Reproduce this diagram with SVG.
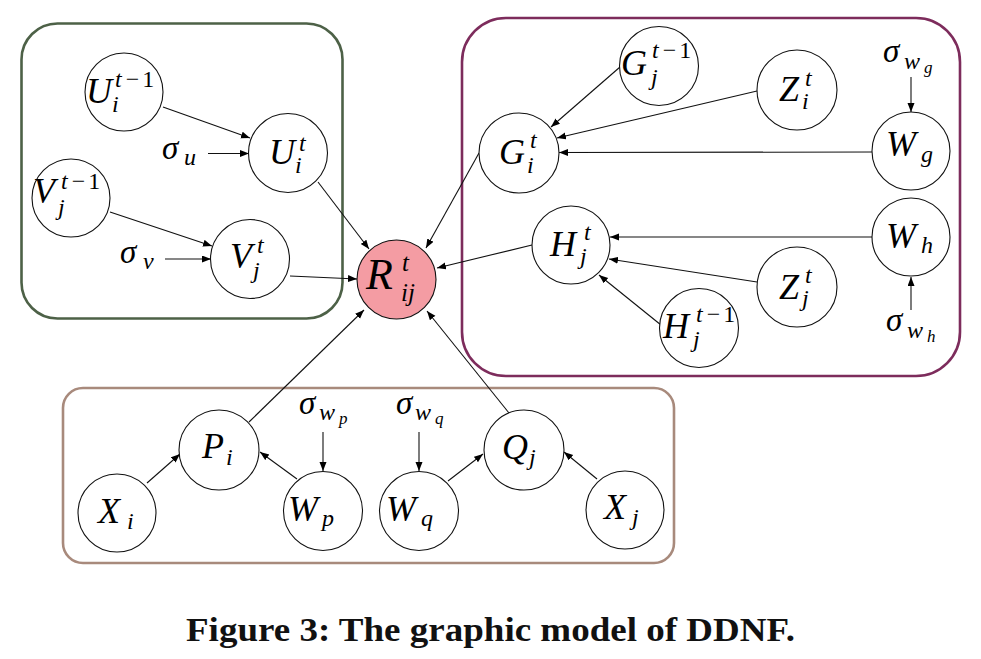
<svg xmlns="http://www.w3.org/2000/svg" width="981" height="659" viewBox="0 0 981 659">
<defs>
<style>
.c{fill:#fff;stroke:#111;stroke-width:1.1}
.m{font-family:"Liberation Serif","Times New Roman",serif;font-style:italic;font-size:36px;fill:#000}
.g{font-size:33px}
.s{font-family:"Liberation Serif","Times New Roman",serif;font-style:italic;font-size:24px;fill:#000}
.ss{font-family:"Liberation Serif","Times New Roman",serif;font-style:italic;font-size:17px;fill:#000}
.n{font-style:normal}
.e{fill:none;stroke:#111;stroke-width:1.1;marker-end:url(#ah)}
.box{fill:none;stroke-width:2.6}
</style>
<marker id="ah" markerUnits="userSpaceOnUse" markerWidth="10" markerHeight="8" refX="9" refY="3.5" orient="auto">
<path d="M0,0 L9,3.5 L0,7 z" fill="#000"/>
</marker>
</defs>
<rect width="981" height="659" fill="#fff"/>
<g id="boxes">
<rect class="box" x="21.5" y="23.5" width="321" height="295" rx="36" stroke="#4d6147"/>
<rect class="box" x="462" y="18" width="498" height="358" rx="44" stroke="#7d2c5c"/>
<rect class="box" x="63" y="388" width="611" height="175" rx="20" stroke="#a88a7c"/>
</g>
<g id="connectors">
<line class="e" x1="163" y1="107" x2="250" y2="138"/>
<line class="e" x1="208" y1="153.5" x2="249" y2="153.5"/>
<line class="e" x1="110" y1="212" x2="212" y2="246"/>
<line class="e" x1="165" y1="259" x2="211" y2="259"/>
<line class="e" x1="318" y1="182" x2="369" y2="249"/>
<line class="e" x1="290" y1="276" x2="357" y2="279"/>
<line class="e" x1="479" y1="153" x2="426" y2="248"/>
<line class="e" x1="532" y1="245" x2="437" y2="268"/>
<line class="e" x1="249" y1="422" x2="364" y2="310"/>
<line class="e" x1="509" y1="413" x2="427" y2="311"/>
<line class="e" x1="620" y1="67" x2="551" y2="127"/>
<line class="e" x1="757" y1="91" x2="557" y2="138"/>
<line class="e" x1="872" y1="152" x2="559" y2="152.5"/>
<line class="e" x1="911" y1="77" x2="911" y2="112"/>
<line class="e" x1="872" y1="237" x2="610" y2="237"/>
<line class="e" x1="757" y1="282" x2="609" y2="259"/>
<line class="e" x1="661" y1="325" x2="599" y2="275"/>
<line class="e" x1="911" y1="310" x2="911" y2="277"/>
<line class="e" x1="147" y1="483" x2="180" y2="454"/>
<line class="e" x1="297" y1="479" x2="260" y2="452"/>
<line class="e" x1="323" y1="432" x2="323" y2="471"/>
<line class="e" x1="419" y1="432" x2="419" y2="471"/>
<line class="e" x1="448" y1="481" x2="483" y2="454"/>
<line class="e" x1="597" y1="479" x2="564" y2="452"/>
</g>
<g id="U_prev"><circle class="c" cx="124" cy="92" r="39"/>
<text class="m" x="86" y="103">U</text>
<text class="s" x="115" y="87">t<tspan class="n" dx="4">−</tspan><tspan class="n" dx="3">1</tspan></text>
<text class="s" x="112" y="112">i</text></g>
<g id="U_t"><circle class="c" cx="288" cy="153" r="39.5"/>
<text class="m" x="269" y="164">U</text>
<text class="s" x="299" y="151">t</text>
<text class="s" x="295" y="173">i</text></g>
<g id="V_prev"><circle class="c" cx="71" cy="198" r="39"/>
<text class="m" x="33" y="203">V</text>
<text class="s" x="61" y="189">t<tspan class="n" dx="4">−</tspan><tspan class="n" dx="3">1</tspan></text>
<text class="s" x="58" y="215">j</text></g>
<g id="V_t"><circle class="c" cx="250" cy="259" r="39.5"/>
<text class="m" x="230" y="268">V</text>
<text class="s" x="257" y="253">t</text>
<text class="s" x="253" y="278">j</text></g>
<g id="R"><circle cx="396.5" cy="279.5" r="39.5" fill="#f49ca3" stroke="#111" stroke-width="1.1"/>
<text class="m" x="366" y="289" style="font-size:44px">R</text>
<text class="s" x="402" y="271" style="font-size:25px">t</text>
<text class="s" x="401" y="301" style="font-size:25px">ij</text></g>
<g id="G_prev"><circle class="c" cx="659" cy="66" r="39.5"/>
<text class="m" x="621" y="75">G</text>
<text class="s" x="652" y="58">t<tspan class="n" dx="4">−</tspan><tspan class="n" dx="3">1</tspan></text>
<text class="s" x="651" y="85">j</text></g>
<g id="Z_i"><circle class="c" cx="797" cy="90" r="40"/>
<text class="m" x="779" y="101">Z</text>
<text class="s" x="805" y="86">t</text>
<text class="s" x="802" y="109">i</text></g>
<g id="W_g"><circle class="c" cx="911" cy="151" r="39"/>
<text class="m" x="886" y="156">W</text>
<text class="s" x="921" y="162">g</text></g>
<g id="G_i"><circle class="c" cx="519" cy="153" r="40"/>
<text class="m" x="499" y="164">G</text>
<text class="s" x="530" y="148">t</text>
<text class="s" x="527" y="173">i</text></g>
<g id="H_j"><circle class="c" cx="571" cy="245" r="39"/>
<text class="m" x="550" y="256">H</text>
<text class="s" x="584" y="240">t</text>
<text class="s" x="580" y="264">j</text></g>
<g id="W_h"><circle class="c" cx="911" cy="237" r="39"/>
<text class="m" x="886" y="248">W</text>
<text class="s" x="921" y="253">h</text></g>
<g id="Z_j"><circle class="c" cx="797" cy="287" r="40"/>
<text class="m" x="779" y="299">Z</text>
<text class="s" x="805" y="283">t</text>
<text class="s" x="802" y="306">j</text></g>
<g id="H_prev"><circle class="c" cx="699" cy="328" r="39.5"/>
<text class="m" x="663" y="338">H</text>
<text class="s" x="696" y="322">t<tspan class="n" dx="4">−</tspan><tspan class="n" dx="3">1</tspan></text>
<text class="s" x="693" y="347">j</text></g>
<g id="X_i"><circle class="c" cx="117" cy="513" r="39"/>
<text class="m" x="98" y="523">X</text>
<text class="s" x="127" y="529">i</text></g>
<g id="P_i"><circle class="c" cx="219" cy="450" r="40"/>
<text class="m" x="202" y="458">P</text>
<text class="s" x="226" y="465">i</text></g>
<g id="W_p"><circle class="c" cx="323" cy="511" r="39.5"/>
<text class="m" x="288" y="521">W</text>
<text class="s" x="322" y="526">p</text></g>
<g id="W_q"><circle class="c" cx="419" cy="511" r="39.5"/>
<text class="m" x="386" y="521">W</text>
<text class="s" x="421" y="526">q</text></g>
<g id="Q_j"><circle class="c" cx="524" cy="450" r="40"/>
<text class="m" x="502" y="459">Q</text>
<text class="s" x="529" y="465">j</text></g>
<g id="X_j"><circle class="c" cx="625" cy="510" r="39"/>
<text class="m" x="604" y="519">X</text>
<text class="s" x="632" y="525">j</text></g>
<g id="sigma_u"><text class="m g" x="162" y="159">σ</text><text class="s" x="184" y="165">u</text></g>
<g id="sigma_v"><text class="m g" x="120" y="263">σ</text><text class="s" x="143" y="269">v</text></g>
<g id="sigma_wg"><text class="m g" x="883" y="62">σ</text><text class="s" x="904" y="69">w</text><text class="ss" x="924" y="73">g</text></g>
<g id="sigma_wh"><text class="m g" x="886" y="331">σ</text><text class="s" x="907" y="338">w</text><text class="ss" x="927" y="342">h</text></g>
<g id="sigma_wp"><text class="m g" x="299" y="414">σ</text><text class="s" x="319" y="420">w</text><text class="ss" x="339" y="424">p</text></g>
<g id="sigma_wq"><text class="m g" x="396" y="414">σ</text><text class="s" x="415" y="420">w</text><text class="ss" x="435" y="424">q</text></g>
<text x="490.5" y="641" text-anchor="middle" font-family="'Liberation Serif','Times New Roman',serif" font-weight="bold" font-size="33" textLength="609" lengthAdjust="spacingAndGlyphs" fill="#111">Figure 3: The graphic model of DDNF.</text>
</svg>
